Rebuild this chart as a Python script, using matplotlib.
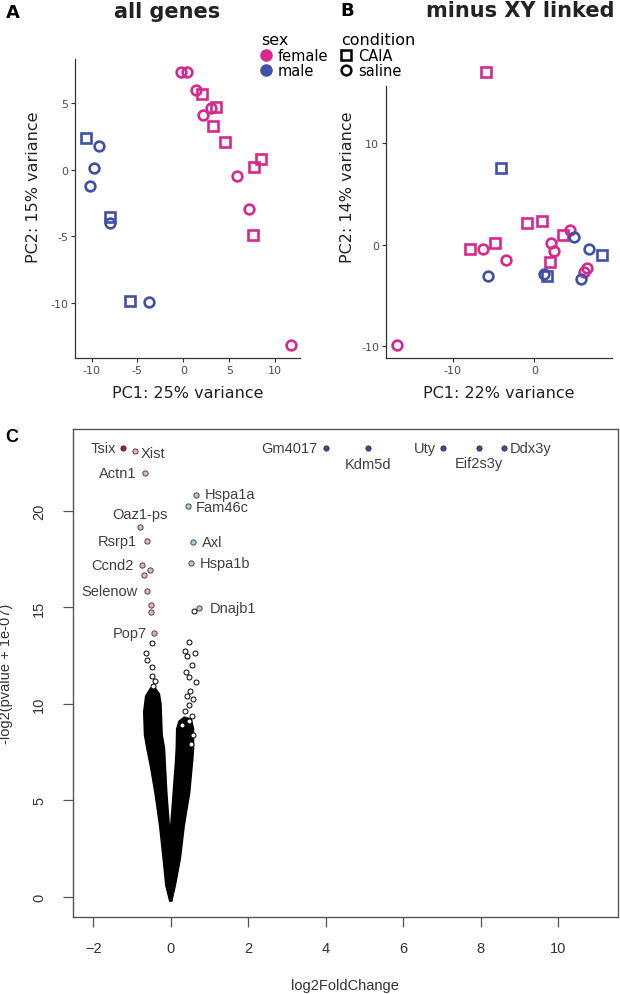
import matplotlib
matplotlib.use('Agg')
import matplotlib.pyplot as plt
from matplotlib.lines import Line2D
from matplotlib.ticker import FuncFormatter

# ---------------- data: PCA (panel A, all genes) ----------------
sex_levels = ['female', 'male']
cond_levels = ['CAIA', 'saline']

pca_a_sex = ['female'] * 15 + ['male'] * 8
pca_a_cond = ['saline', 'saline', 'saline', 'CAIA', 'saline', 'saline', 'CAIA', 'CAIA',
              'CAIA', 'saline', 'CAIA', 'CAIA', 'saline', 'CAIA', 'saline',
              'CAIA', 'saline', 'saline', 'saline', 'CAIA', 'saline', 'CAIA', 'saline']
pca_a_pc1 = [-0.25, 0.35, 1.4, 2.0, 2.1, 3.0, 3.5, 3.2, 4.5, 5.8, 7.7, 8.5, 7.1, 7.6, 11.7,
             -10.65, -9.2, -9.7, -10.2, -8.0, -8.0, -5.8, -3.75]
pca_a_pc2 = [7.3, 7.3, 6.0, 5.7, 4.1, 4.65, 4.7, 3.3, 2.05, -0.5, 0.2, 0.8, -2.95, -4.9, -13.15,
             2.4, 1.75, 0.15, -1.2, -3.6, -4.0, -9.9, -9.95]

# ---------------- data: PCA (panel B, minus XY linked) ----------------
pca_b_sex = ['female'] * 15 + ['male'] * 8
pca_b_cond = ['CAIA', 'saline', 'CAIA', 'saline', 'CAIA', 'saline', 'CAIA', 'CAIA',
              'saline', 'saline', 'CAIA', 'CAIA', 'saline', 'saline', 'saline',
              'CAIA', 'saline', 'saline', 'CAIA', 'saline', 'saline', 'CAIA', 'saline']
pca_b_pc1 = [-5.96, -16.9, -7.9, -6.25, -4.8, -3.55, -0.94, 0.94, 2.0, 2.4, 1.9, 3.55, 4.3, 6.1, 6.4,
             -4.1, -5.67, 1.2, 1.5, 4.8, 6.65, 8.3, 5.67]
pca_b_pc2 = [17.0, -9.84, -0.4, -0.46, 0.16, -1.48, 2.16, 2.33, 0.2, -0.62, -1.7, 0.92, 1.48, -2.7, -2.3,
             7.57, -3.1, -2.85, -3.08, 0.75, -0.46, -0.98, -3.34]

# ---------------- data: volcano (panel C) ----------------
hit_genes = ['Tsix', 'Xist', 'Actn1', 'Oaz1-ps', 'Rsrp1', 'Ccnd2', 'Selenow', 'Pop7',
             'Hspa1a', 'Fam46c', 'Axl', 'Hspa1b', 'Dnajb1',
             'Gm4017', 'Kdm5d', 'Uty', 'Eif2s3y', 'Ddx3y']
hit_lfc = [-1.24, -0.92, -0.67, -0.80, -0.61, -0.735, -0.62, -0.43,
           0.64, 0.45, 0.565, 0.52, 0.735,
           4.0, 5.1, 7.03, 7.94, 8.6]
hit_nlp = [23.25, 23.09, 21.97, 19.15, 18.45, 17.22, 15.84, 13.66,
           20.83, 20.27, 18.41, 17.3, 14.99,
           23.25, 23.25, 23.25, 23.25, 23.25]
hit_group = ['strong', 'down', 'down', 'down', 'down', 'down', 'down', 'down',
             'up', 'up', 'up', 'up', 'up',
             'ylinked', 'ylinked', 'ylinked', 'ylinked', 'ylinked']

# unlabelled but highlighted genes
extra_lfc = [-0.545, -0.68, -0.52, -0.51]
extra_nlp = [16.96, 16.68, 15.15, 14.75]

# sparse non-significant genes above the dense cloud
sparse_lfc = [0.61, -0.49, -0.64, -0.62, -0.48, -0.49, -0.41, -0.45,
              0.47, 0.37, 0.62, 0.43, 0.54, 0.39, 0.48, 0.65, 0.50, 0.41, 0.565,
              0.48, 0.37, 0.54, 0.48, 0.30, 0.58, 0.52]
sparse_nlp = [14.8, 13.16, 12.63, 12.3, 11.93, 11.43, 11.21, 10.95,
              13.23, 12.76, 12.64, 12.47, 12.02, 11.67, 11.38, 11.16, 10.69, 10.43, 10.26,
              9.95, 9.65, 9.39, 9.13, 8.9, 8.4, 7.9]

# outline of the dense mass of genes (the "V")
cloud_lfc = [-0.02, -0.12, -0.19, -0.28, -0.40, -0.52, -0.61, -0.67, -0.69, -0.64, -0.52,
             -0.40, -0.30, -0.26, -0.23, -0.17, -0.11, -0.02,
             0.06, 0.13, 0.15, 0.16, 0.22, 0.35, 0.52, 0.58, 0.58, 0.56, 0.48, 0.34, 0.24, 0.11, 0.02]
cloud_nlp = [-0.2, 0.6, 2.0, 3.7, 5.4, 6.8, 7.7, 8.4, 9.6, 10.4, 10.8,
             10.8, 10.5, 10.0, 8.4, 7.7, 5.4, 3.0,
             5.1, 7.0, 7.7, 8.7, 9.1, 9.3, 9.2, 8.7, 7.7, 7.15, 5.4, 3.7, 2.0, 0.6, -0.2]

# ---------------- styles ----------------
sex_colors = {'female': '#D6288E', 'male': '#4050A6'}
cond_markers = {'CAIA': 's', 'saline': 'o'}
hit_colors = {'strong': '#A3165F', 'down': '#E6B1C4', 'up': '#A9CCDE', 'ylinked': '#3D4A9C'}
# label offsets in pixels (dx, dy) and alignment
label_pos = {
    'Tsix': (-7, 0, 'right'), 'Xist': (6, -2, 'left'), 'Actn1': (-8, 0, 'right'),
    'Oaz1-ps': (0, 13, 'center'), 'Rsrp1': (-10, 0, 'right'), 'Ccnd2': (-9, 0, 'right'),
    'Selenow': (-9, 0, 'right'), 'Pop7': (-7, 0, 'right'),
    'Hspa1a': (9, 1, 'left'), 'Fam46c': (8, -1, 'left'), 'Axl': (9, 0, 'left'),
    'Hspa1b': (9, 0, 'left'), 'Dnajb1': (10, 0, 'left'),
    'Gm4017': (-8, 0, 'right'), 'Kdm5d': (0, -16, 'center'), 'Uty': (-7, 0, 'right'),
    'Eif2s3y': (0, -15, 'center'), 'Ddx3y': (6, 0, 'left'),
}

W, H = 620, 995
fig = plt.figure(figsize=(W / 100, H / 100), dpi=100)

def fx(px):
    return px / W

def fy(py):
    return 1 - py / H

def pca_panel(ax, sex, cond, pc1, pc2, xlabel, ylabel):
    for s, c, x, y in zip(sex, cond, pc1, pc2):
        ax.plot(x, y, marker=cond_markers[c], ls='', ms=7, mew=1.9,
                mfc='none', mec=sex_colors[s], clip_on=False)
    for side in ['top', 'right']:
        ax.spines[side].set_visible(False)
    for side in ['left', 'bottom']:
        ax.spines[side].set_color('#333333')
        ax.spines[side].set_linewidth(0.9)
    ax.tick_params(direction='out', length=3, width=0.8, color='#333333',
                   labelcolor='#4D4D4D', labelsize=8, pad=2)
    fmt = FuncFormatter(lambda v, p: f'{v:g}')
    ax.xaxis.set_major_formatter(fmt)
    ax.yaxis.set_major_formatter(fmt)
    ax.set_xlabel(xlabel, fontsize=11.5, color='#222222')
    ax.set_ylabel(ylabel, fontsize=11.5, color='#222222')

# ---------- panel A ----------
axA = fig.add_axes([fx(75), fy(359), fx(300) - fx(75), fy(60) - fy(359)])
pca_panel(axA, pca_a_sex, pca_a_cond, pca_a_pc1, pca_a_pc2,
          'PC1: 25% variance', 'PC2: 15% variance')
axA.set_xlim(-11.8, 12.7)
axA.set_ylim(-14.15, 8.3)
axA.set_xticks([-10, -5, 0, 5, 10])
axA.set_yticks([-10, -5, 0, 5])
axA.xaxis.set_label_coords(0.5, -0.09)
axA.yaxis.set_label_coords(-0.15, 0.575)

# ---------- panel B ----------
axB = fig.add_axes([fx(386), fy(359), fx(612) - fx(386), fy(60) - fy(359)])
pca_panel(axB, pca_b_sex, pca_b_cond, pca_b_pc1, pca_b_pc2,
          'PC1: 22% variance', 'PC2: 14% variance')
axB.set_xlim(-18.2, 9.5)
axB.set_ylim(-11.15, 18.3)
axB.spines['left'].set_bounds(-11.15, 15.6)
axB.set_xticks([-10, 0])
axB.set_yticks([-10, 0, 10])
axB.xaxis.set_label_coords(0.5, -0.09)
axB.yaxis.set_label_coords(-0.137, 0.575)

# titles and panel letters
fig.text(fx(167), fy(12), 'all genes', ha='center', va='center',
         fontsize=15, fontweight='bold', color='#222222')
fig.text(fx(520), fy(11), 'minus XY linked', ha='center', va='center',
         fontsize=15, fontweight='bold', color='#222222')
fig.text(fx(6), fy(13), 'A', ha='left', va='center', fontsize=13, fontweight='bold')
fig.text(fx(340), fy(11), 'B', ha='left', va='center', fontsize=13, fontweight='bold')
fig.text(fx(5), fy(438), 'C', ha='left', va='center', fontsize=13, fontweight='bold',
         family='Liberation Sans')

# legends
sex_handles = [Line2D([], [], marker='o', ls='', ms=8, color=sex_colors[s]) for s in sex_levels]
cond_handles = [Line2D([], [], marker=cond_markers[c], ls='', ms=7, mew=1.8,
                       mfc='none', mec='black') for c in cond_levels]
leg_kw = dict(loc='upper left', frameon=False, alignment='left', handlelength=0.7,
              handletextpad=0.45, labelspacing=0.05, borderpad=0, borderaxespad=0,
              fontsize=10.5, title_fontsize=11.5)
fig.legend(sex_handles, sex_levels, title='sex', bbox_to_anchor=(fx(261), fy(33)), **leg_kw)
fig.legend(cond_handles, cond_levels, title='condition', bbox_to_anchor=(fx(341), fy(33)), **leg_kw)

# ---------- panel C ----------
axC = fig.add_axes([fx(72.7), fy(918), fx(617.7) - fx(72.7), fy(429.5) - fy(918)])
axC.fill(cloud_lfc, cloud_nlp, color='black', lw=1.5, zorder=2)
axC.plot(sparse_lfc, sparse_nlp, ls='', marker='o', ms=3.6, mfc='white', mec='black',
         mew=0.7, zorder=3)
axC.plot(extra_lfc, extra_nlp, ls='', marker='o', ms=3.8, mfc=hit_colors['down'], mec='#333333',
         mew=0.6, zorder=4)
for g, x, y, grp in zip(hit_genes, hit_lfc, hit_nlp, hit_group):
    axC.plot(x, y, ls='', marker='o', ms=3.8, mfc=hit_colors[grp], mec='#333333', mew=0.6, zorder=4)
    dx, dy, ha = label_pos[g]
    axC.annotate(g, (x, y), xytext=(dx * 0.72, dy * 0.72), textcoords='offset points',
                 ha=ha, va='center', fontsize=10.5, color='#404040', family='Liberation Sans')

axC.set_xlim(-2.53, 11.53)
axC.set_ylim(-1.04, 24.27)
axC.set_xticks([-2, 0, 2, 4, 6, 8, 10])
axC.set_yticks([0, 5, 10, 15, 20])
for side in axC.spines.values():
    side.set_color('#555555')
    side.set_linewidth(1.0)
axC.tick_params(direction='out', length=7, width=0.9, color='#555555',
                labelcolor='#333333', labelsize=10.5)
axC.tick_params(axis='x', pad=10)
axC.tick_params(axis='y', pad=12)
for lab in axC.get_yticklabels() + axC.get_xticklabels():
    lab.set_family('Liberation Sans')
for lab in axC.get_yticklabels():
    lab.set_rotation(90)
    lab.set_va('center')
axC.set_xlabel('log2FoldChange', fontsize=10.5, family='Liberation Sans', color='#333333')
axC.set_ylabel('-log2(pvalue + 1e-07)', fontsize=10.5, family='Liberation Sans', color='#333333')
axC.xaxis.set_label_coords(0.5, -0.125)
axC.yaxis.set_label_coords(-0.11, 0.5)

fig.savefig('out.png', dpi=100)
